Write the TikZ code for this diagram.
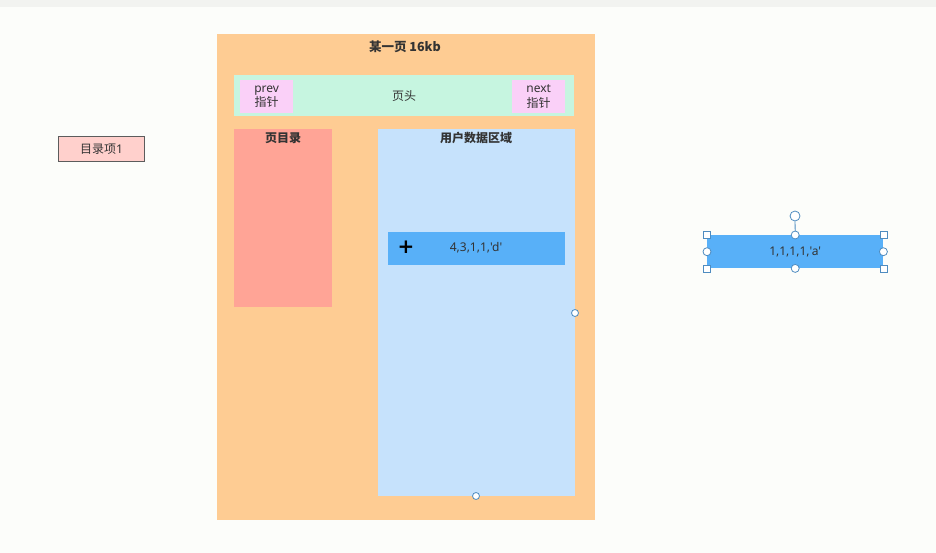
\documentclass[tikz,border=0pt]{standalone}
\usepackage{fontspec}
\setmainfont{Noto Sans CJK SC}
\newfontfamily\lat[Ligatures=TeXOff]{Noto Sans}
\newfontfamily\latb[Ligatures=TeXOff]{DejaVu Sans}
\definecolor{bgc}{HTML}{FCFDFA}
\definecolor{topbar}{HTML}{F2F3F0}
\definecolor{pagec}{HTML}{FECC93}
\definecolor{headc}{HTML}{C6F5E0}
\definecolor{ptrc}{HTML}{FAD0F8}
\definecolor{dirc}{HTML}{FFA496}
\definecolor{userc}{HTML}{C6E2FC}
\definecolor{rowc}{HTML}{58B0F8}
\definecolor{itemc}{HTML}{FFD0CC}
\definecolor{txtc}{HTML}{333333}
\definecolor{handc}{HTML}{4F8CC0}
\begin{document}
\begin{tikzpicture}[x=1pt,y=-1pt,
  box/.style={draw=none,inner sep=0pt,anchor=north west},
  lbl/.style={text=txtc,font=\fontsize{12}{14}\selectfont,inner sep=0pt},
  hcirc/.style={circle,draw=handc,fill=white,line width=0.8pt,minimum size=8pt,inner sep=0pt},
  hsq/.style={rectangle,draw=handc,fill=white,line width=0.8pt,minimum size=7pt,inner sep=0pt}]
\fill[bgc] (0,0) rectangle (936,553);
\fill[topbar] (0,0) rectangle (936,7);
\useasboundingbox (0,0) rectangle (936,553);
% page
\node[box,fill=pagec,minimum width=378pt,minimum height=486pt] (page) at (217,34) {};
\node[lbl,font=\fontsize{12.5}{14}\selectfont\bfseries] (title) at (405,47) {某一页 16kb};
% header
\node[box,fill=headc,minimum width=340pt,minimum height=41pt] (head) at (234,75) {};
\node[lbl] (headl) at (404,96) {页头};
\node[box,fill=ptrc,minimum width=53pt,minimum height=33pt] (prev) at (240,80) {};
\node[lbl,align=center,font=\fontsize{12}{14.5}\selectfont] (prevl) at (prev.center) {{\lat prev}\\指针};
\node[box,fill=ptrc,minimum width=53pt,minimum height=33pt] (next) at (512,80) {};
\node[lbl,align=center,font=\fontsize{12}{14.5}\selectfont] (nextl) at (next.center) {{\lat next}\\指针};
% page directory
\node[box,fill=dirc,minimum width=98pt,minimum height=178pt] (dir) at (234,129) {};
\node[lbl,font=\fontsize{12}{14}\selectfont\bfseries] (dirl) at (283,138) {页目录};
% user data
\node[box,fill=userc,minimum width=197pt,minimum height=367pt] (user) at (378,129) {};
\node[lbl,font=\fontsize{12}{14}\selectfont\bfseries] (userl) at (476,138) {用户数据区域};
\node[box,fill=rowc,minimum width=177pt,minimum height=33pt] (row) at (388,232) {};
\node[lbl,font=\lat\fontsize{12}{14}\selectfont] (rowl) at (476,248) {4,3,1,1,'d'};
\node[text=black,inner sep=0pt,font=\latb\bfseries\fontsize{20}{20}\selectfont] (plus) at (406,247) {+};
\node[hcirc,minimum size=7pt] (h1) at (575,313) {};
\node[hcirc,minimum size=7pt] (h2) at (476,496) {};
% directory item
\node[box,fill=itemc,draw=txtc!80,line width=0.9pt,minimum width=86pt,minimum height=25pt] (item) at (58,136) {};
\node[lbl] (iteml) at (item.center) {目录项{\lat 1}};
% selected record
\node[box,fill=rowc,minimum width=176pt,minimum height=33pt] (rec) at (707,235) {};
\node[lbl,font=\lat\fontsize{12}{14}\selectfont] (recl) at (rec.center) {1,1,1,1,'a'};
\node[hcirc,minimum size=10pt] (rot) at (795,216) {};
\draw[handc,line width=0.8pt] (rot) -- (rec.north);
\foreach \a in {north west,north east,south west,south east}{\node[hsq] at (rec.\a) {};}
\foreach \a in {north,south,east,west}{\node[hcirc] at (rec.\a) {};}
\end{tikzpicture}
\end{document}
